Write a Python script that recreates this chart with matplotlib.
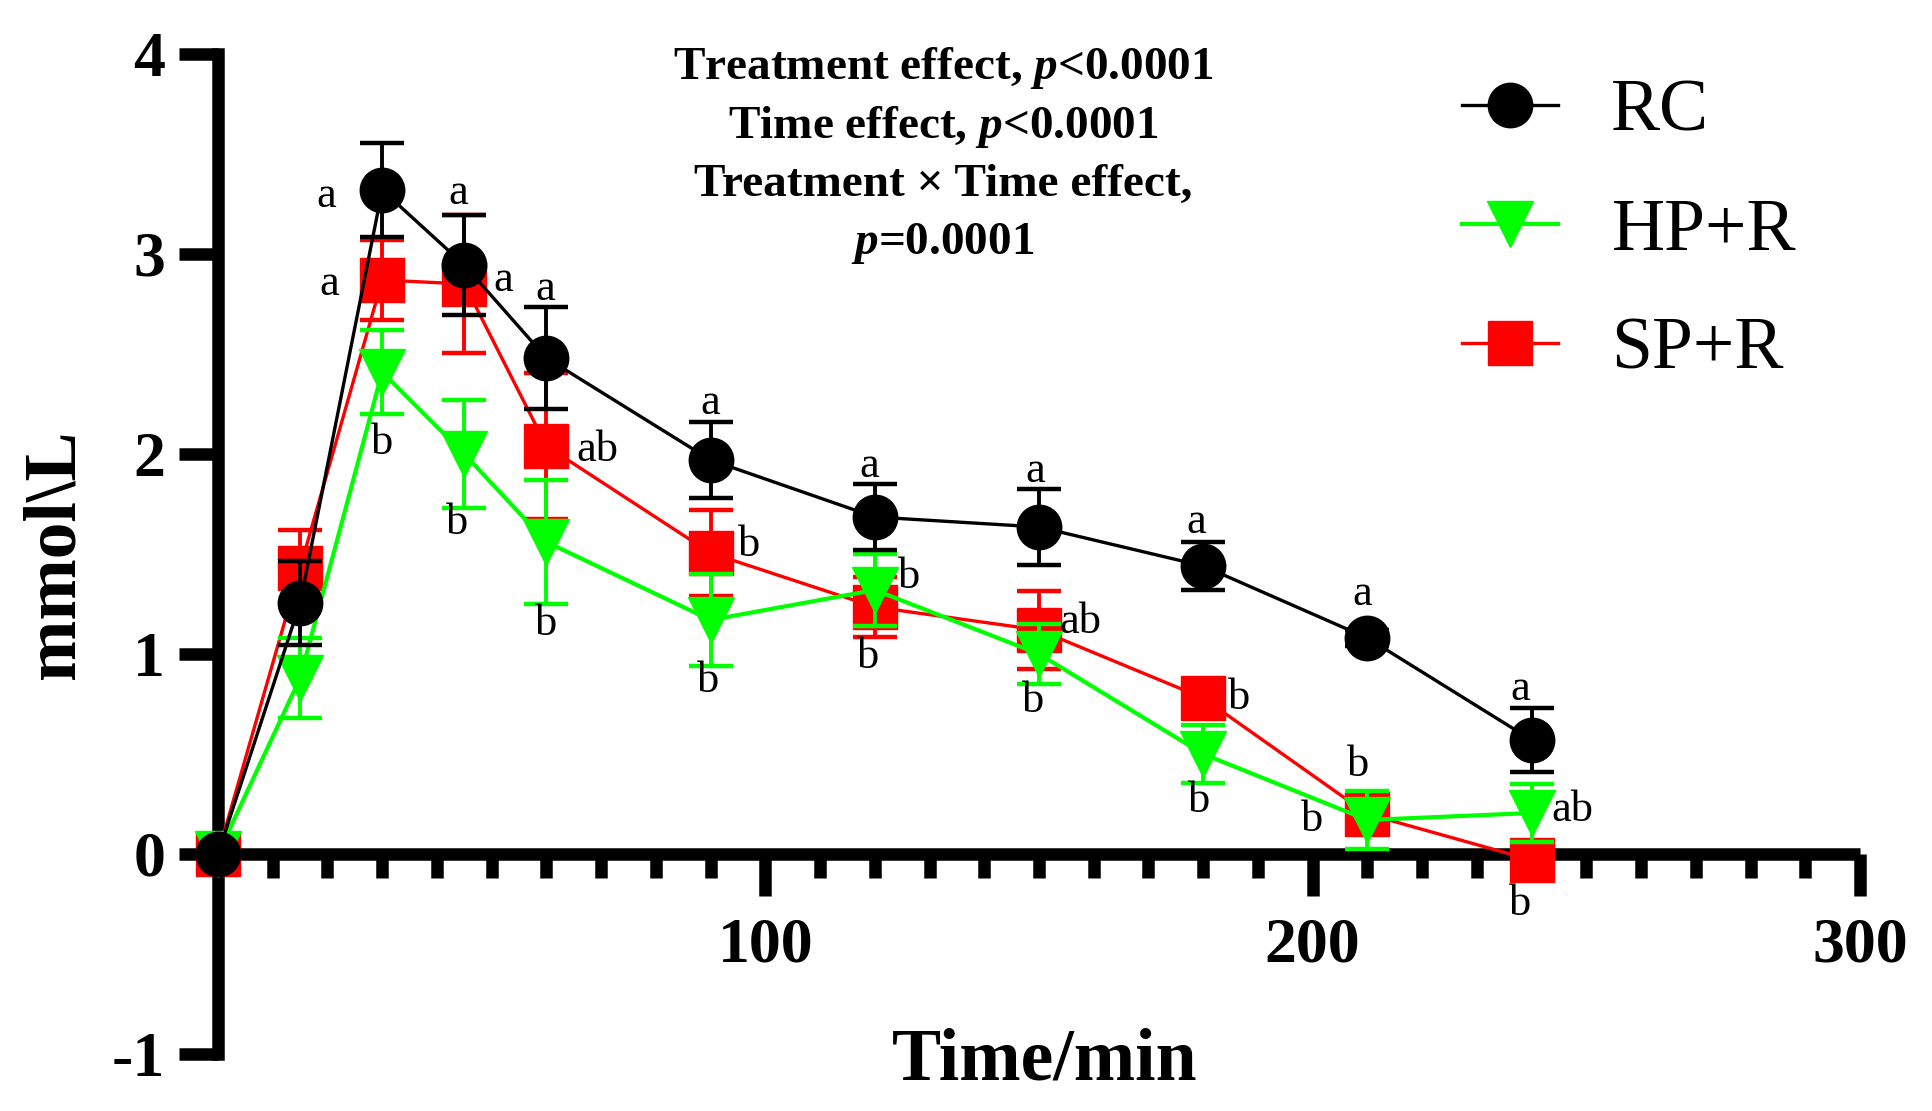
import matplotlib
matplotlib.use("Agg")
import matplotlib.pyplot as plt
from matplotlib.ticker import FixedLocator

plt.rcParams['font.family'] = ['Liberation Serif', 'DejaVu Serif']
plt.rcParams['axes.unicode_minus'] = False
plt.rcParams['mathtext.fontset'] = 'custom'
plt.rcParams['mathtext.rm'] = 'Liberation Serif:bold'
plt.rcParams['mathtext.bf'] = 'Liberation Serif:bold'
plt.rcParams['mathtext.it'] = 'Liberation Serif:italic:bold'
plt.rcParams['mathtext.bfit'] = 'Liberation Serif:italic:bold'

# ---------------- data ----------------
time = [0, 15, 30, 45, 60, 90, 120, 150, 180, 210, 240]

rc = [0, 1.255, 3.32, 2.945, 2.48, 1.97, 1.685, 1.635, 1.44, 1.08, 0.57]
rc_sem = [0, 0.21, 0.235, 0.25, 0.255, 0.19, 0.165, 0.19, 0.12, 0.04, 0.16]

hp = [0, 0.88, 2.41, 2.0, 1.56, 1.17, 1.32, 1.0, 0.50, 0.17, 0.205]
hp_sem = [0, 0.2, 0.21, 0.27, 0.31, 0.23, 0.18, 0.15, 0.145, 0.145, 0.145]

sp = [0, 1.43, 2.87, 2.85, 2.04, 1.505, 1.235, 1.12, 0.78, 0.20, -0.03]
sp_sem = [0, 0.19, 0.2, 0.345, 0.365, 0.215, 0.15, 0.195, 0.05, 0.08, 0.09]

rc_letters = ['', '', 'a', 'a', 'a', 'a', 'a', 'a', 'a', 'a', 'a']
hp_letters = ['', '', 'b', 'b', 'b', 'b', 'b', 'b', 'b', 'b', 'ab']
sp_letters = ['', '', 'a', 'a', 'ab', 'b', 'b', 'ab', 'b', 'b', 'b']

series_names = ['RC', 'HP+R', 'SP+R']
y_ticks = [-1, 0, 1, 2, 3, 4]
x_major = [100, 200, 300]
x_minor = [10, 20, 30, 40, 50, 60, 70, 80, 90, 110, 120, 130, 140, 150, 160,
           170, 180, 190, 210, 220, 230, 240, 250, 260, 270, 280, 290]
stats_lines = [r"Treatment effect, $\mathbfit{p}$<0.0001",
               r"Time effect, $\mathbfit{p}$<0.0001",
               r"Treatment × Time effect,",
               r"$\mathbfit{p}$=0.0001"]

# ---------------- layout (letter offsets in points) ----------------
rc_off = [None, None, (-40, -4), (-4, 52), (-1, 50), (0, 41), (-4, 37), (-3, 40), (-5, 32), (-4, 32), (-8, 37)]
hp_off = [None, None, (0, -51), (-5, -50), (0, -59), (-2, -44), (25, 9), (-4, -34), (-3, -34), (-40, 0), (29, 2)]
sp_off = [None, None, (-38, -3), (28, 3), (37, -3), (28, 6), (-5, -36), (30, 6), (26, 0), (-7, 35), (-8, -32)]

W, H = 1932, 1111
fig = plt.figure(figsize=(W / 100, H / 100), dpi=100)
x0, x1 = 218, 1860
ytop, ybot = 54, 1054
ax = fig.add_axes([x0 / W, 1 - ybot / H, (x1 - x0) / W, (ybot - ytop) / H])
ax.set_xlim(0, 300)
ax.set_ylim(-1, 4)

styles = [
    dict(y=sp, e=sp_sem, color='#ff0000', marker='s', ms=32, lw=2.4, z=3, name=series_names[2]),
    dict(y=hp, e=hp_sem, color='#00ff00', marker='v', ms=33, lw=3.0, z=4, name=series_names[1]),
    dict(y=rc, e=rc_sem, color='#000000', marker='o', ms=32, lw=2.4, z=5, name=series_names[0]),
]
handles = {}
for s in styles:
    ax.errorbar(time, s['y'], yerr=s['e'], fmt='none', ecolor=s['color'],
                elinewidth=2.8, capsize=16, capthick=3.2, zorder=s['z'], clip_on=False)
    ln, = ax.plot(time, s['y'], color=s['color'], marker=s['marker'], ms=s['ms'],
                  mew=1, mec=s['color'], lw=s['lw'], zorder=s['z'] + 0.5, clip_on=False)
    handles[s['name']] = ln

for vals, letters, offs in [(rc, rc_letters, rc_off), (hp, hp_letters, hp_off), (sp, sp_letters, sp_off)]:
    for t, v, lab, off in zip(time, vals, letters, offs):
        if lab:
            ax.annotate(lab, xy=(t, v), xytext=off, textcoords='offset points',
                        ha='center', va='center', fontsize=32, zorder=10,
                        annotation_clip=False)

# axes styling
for sp_name in ['top', 'right']:
    ax.spines[sp_name].set_visible(False)
ax.spines['left'].set_linewidth(9)
ax.spines['bottom'].set_linewidth(9)
ax.spines['bottom'].set_position(('data', 0))
ax.spines['left'].set_bounds(-1, 4)
ax.spines['bottom'].set_bounds(0, 300)
ax.spines['left'].set_capstyle('projecting')
ax.spines['bottom'].set_capstyle('butt')

ax.set_yticks(y_ticks)
ax.set_yticklabels([str(v) for v in y_ticks])
ax.xaxis.set_major_locator(FixedLocator(x_major))
ax.xaxis.set_minor_locator(FixedLocator(x_minor))
ax.set_xticklabels([str(v) for v in x_major])
ax.tick_params(axis='y', which='major', direction='out', length=28, width=9, pad=10,
               labelsize=46)
ax.tick_params(axis='x', which='major', direction='out', length=30, width=9, pad=16,
               labelsize=46)
ax.tick_params(axis='x', which='minor', direction='out', length=17, width=9)
for lab in ax.get_xticklabels() + ax.get_yticklabels():
    lab.set_fontweight('bold')

fig.text(55 / W, 1 - 554 / H, 'mmol\\L', rotation=90, ha='center', va='center',
         fontsize=53, fontweight='bold')
fig.text(1045 / W, 1 - 1062 / H, 'Time/min', ha='center', va='center',
         fontsize=53, fontweight='bold')

line_y = [68, 127, 185, 243]
for txt, yy in zip(stats_lines, line_y):
    fig.text(943 / W, 1 - yy / H, txt, ha='center', va='center', fontsize=34,
             fontweight='bold')

leg = ax.legend([handles[n] for n in series_names], series_names,
                loc='upper left', bbox_to_anchor=(1462 / W, 1 - 79 / H),
                bbox_transform=fig.transFigure, frameon=False, fontsize=53,
                handlelength=1.3, handletextpad=0.73, labelspacing=0.70,
                borderpad=0, borderaxespad=0, markerscale=1.0)

fig.savefig('out.png', dpi=100)
